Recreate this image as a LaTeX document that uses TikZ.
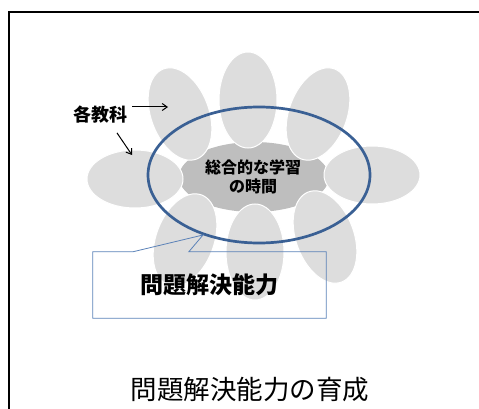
\documentclass[tikz,border=0pt]{standalone}
\usepackage{fontspec}
\usepackage{tikz}
\usetikzlibrary{shapes.geometric,calc,arrows.meta}
\newfontfamily\jp{Noto Sans CJK JP}
\newfontfamily\jpheavy{Noto Sans CJK JP Black}
\definecolor{petalgray}{HTML}{DDDDDD}
\definecolor{coregray}{HTML}{BEBEBE}
\definecolor{ringblue}{HTML}{3A6094}
\definecolor{boxblue}{HTML}{5B82B8}
\tikzstyle{petal} = [ellipse, fill=petalgray, draw=white, line width=1pt,
    inner sep=0pt, minimum width=58pt, minimum height=96pt]
\tikzstyle{core} = [ellipse, fill=coregray, inner sep=0pt,
    minimum width=150pt, minimum height=70pt]
\tikzstyle{ring} = [ellipse, draw=ringblue, line width=2.7pt, inner sep=0pt,
    minimum width=222pt, minimum height=136pt]
\tikzstyle{jplabel} = [font=\jpheavy, inner sep=2pt]
\tikzstyle{pointer} = [-{Straight Barb[length=5pt,width=7pt]}, line width=1pt]

\begin{document}
\begin{tikzpicture}[x=1pt, y=-1pt]
                \useasboundingbox (0,0) rectangle (479,409);
                % frame
                \draw[line width=2pt] (9,409) |- (479,12.5);
                % centre and petals
                \node[core] (core) at (254,177) {};
                \node[petal] (pT) at (248,100) {};
                \node[petal] (pB) at (255,252) {};
                \node[petal, rotate=90] (pL) at (135,179) {};
                \node[petal, rotate=90] (pR) at (372,175) {};
                \node[petal, rotate=20] (pTL) at (180,114) {};
                \node[petal, rotate=-20] (pTR) at (318,114) {};
                \node[petal, rotate=-20] (pBL) at (185,240) {};
                \node[petal, rotate=20] (pBR) at (325,237) {};
                \node[jplabel, align=center, font=\jpheavy\fontsize{16}{19}\selectfont]
                    (time) at (253,177) {総合的な学習\\の時間};
                \node[ring] (ring) at (259,175) {};
                % subjects
                \node[jplabel, font=\jpheavy\fontsize{18}{20}\selectfont] (subj) at (100,115) {各教科};
                \coordinate (toTL) at (168,107);
                \coordinate (toL) at (132,155);
                \draw[pointer] ([xshift=3pt,yshift=8pt]subj.east) -- (toTL);
                \draw[pointer] ([xshift=17pt,yshift=-7pt]subj.south) -- (toL);
                % callout
                \node[jplabel, font=\jpheavy\fontsize{23}{25}\selectfont,
                    minimum width=233pt, minimum height=66pt] (skill) at (209.5,285) {問題解決能力};
                \coordinate (tip) at (203,235);
                \draw[boxblue, line width=0.8pt] ($(skill.north west)+(40,0)$) -- (tip)
                    -- ($(skill.north west)+(96,0)$) -- (skill.north east) -- (skill.south east)
                    -- (skill.south west) -- (skill.north west) -- cycle;
                % title
                \node[font=\jp\fontsize{26.5}{30}\selectfont] (title) at (250,390) {問題解決能力の育成};
            \end{tikzpicture}
\end{document}
